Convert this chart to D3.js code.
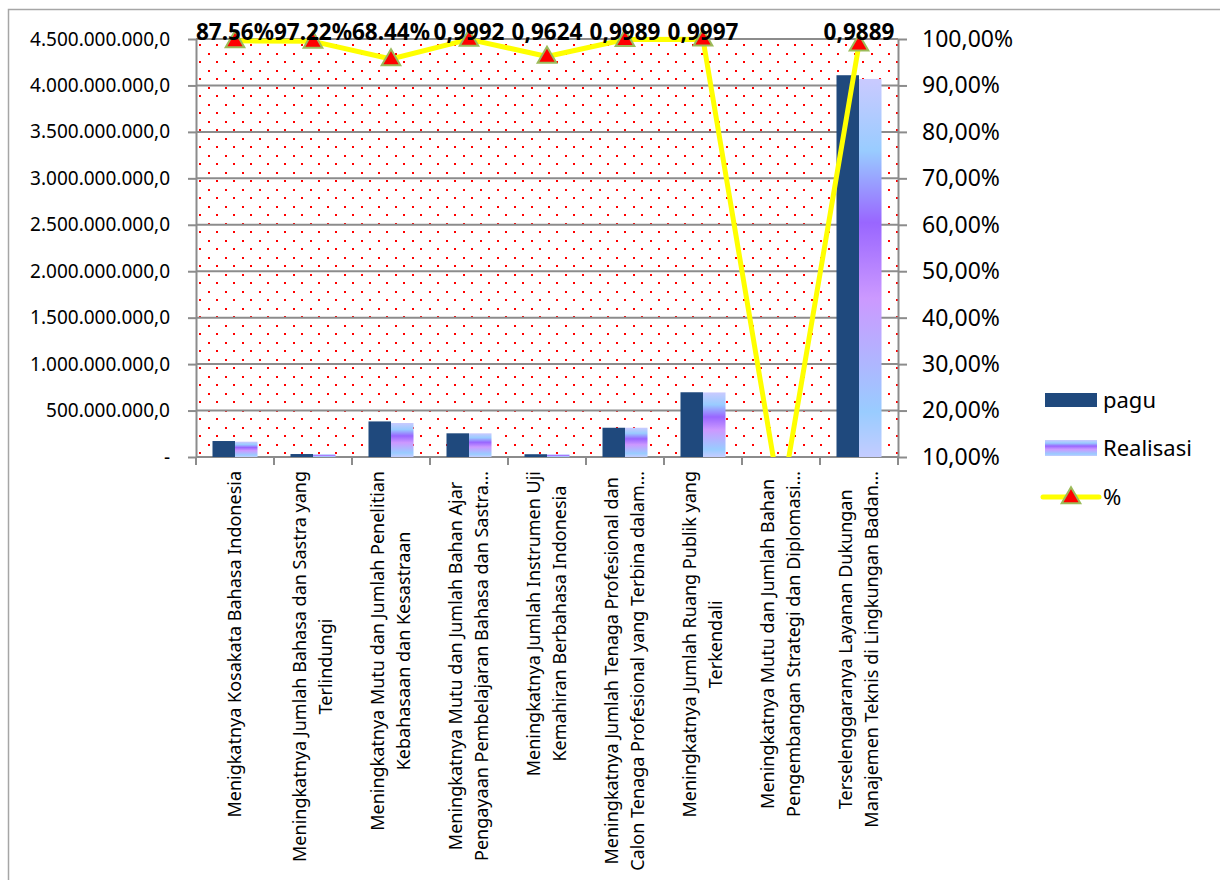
<!DOCTYPE html>
<html>
<head>
<meta charset="utf-8">
<script src="https://cdn.jsdelivr.net/npm/d3@7"></script>
<style>
  body { margin: 0; background: #fff; }
  svg { display: block; font-family: "Noto Sans", sans-serif; }
</style>
</head>
<body>
<div id="chart"></div>
<script>
// data
const categories = [
  ["Menigkatnya Kosakata Bahasa Indonesia"],
  ["Meningkatnya Jumlah Bahasa dan Sastra yang", "Terlindungi"],
  ["Meningkatnya Mutu dan Jumlah Penelitian", "Kebahasaan dan Kesastraan"],
  ["Meningkatnya Mutu dan Jumlah Bahan Ajar", "Pengayaan Pembelajaran Bahasa dan Sastra…"],
  ["Meningkatnya Jumlah Instrumen Uji", "Kemahiran Berbahasa Indonesia"],
  ["Meningkatnya Jumlah Tenaga Profesional dan", "Calon Tenaga Profesional yang Terbina dalam…"],
  ["Meningkatnya Jumlah Ruang Publik yang", "Terkendali"],
  ["Meningkatnya Mutu dan Jumlah Bahan", "Pengembangan Strategi dan Diplomasi…"],
  ["Terselenggaranya Layanan Dukungan", "Manajemen Teknis di Lingkungan Badan…"]
];
const pagu      = [172e6, 32e6, 383e6, 255e6, 30e6, 315e6, 697e6, 0, 4.11e9];
const realisasi = [165e6, 30e6, 366e6, 255e6, 29e6, 315e6, 695e6, 0, 4.07e9];
const persen    = [0.996, 0.995, 0.957, 0.9992, 0.9624, 0.9989, 0.9997, 0, 0.9889];
const persenLabels = ["87.56%", "97.22%", "68.44%", "0,9992", "0,9624", "0,9989", "0,9997", "", "0,9889"];
const leftTicks  = [0, 5e8, 1e9, 1.5e9, 2e9, 2.5e9, 3e9, 3.5e9, 4e9, 4.5e9];
const rightTicks = [0.1, 0.2, 0.3, 0.4, 0.5, 0.6, 0.7, 0.8, 0.9, 1.0];
const seriesNames = ["pagu", "Realisasi", "%"];

const W = 1220, H = 880;
const plot = { left: 196, right: 898, top: 39, bottom: 457 };
const gridColor = "#8c8c8c";

const idLocale = d3.formatLocale({ decimal: ",", thousands: ".", grouping: [3], currency: ["Rp", ""] });
const leftFmt = v => v === 0 ? "-" : idLocale.format(",.1f")(v);
const rightFmt = idLocale.format(".2%");

const svg = d3.select("#chart").append("svg")
  .attr("width", W)
  .attr("height", H);

const defs = svg.append("defs");

// dotted plot-area fill
const pat = defs.append("pattern")
  .attr("id", "dots")
  .attr("patternUnits", "userSpaceOnUse")
  .attr("x", 4).attr("y", 2)
  .attr("width", 17).attr("height", 17);
pat.append("rect").attr("width", 17).attr("height", 17).attr("fill", "#fff");
pat.append("rect").attr("x", 0).attr("y", 0).attr("width", 2).attr("height", 2).attr("fill", "#ff0000")
  .attr("shape-rendering", "crispEdges");
pat.append("rect").attr("x", 8).attr("y", 8).attr("width", 2).attr("height", 2).attr("fill", "#ff0000")
  .attr("shape-rendering", "crispEdges");

// Realisasi gradient
const grad = defs.append("linearGradient")
  .attr("id", "realGrad")
  .attr("x1", 0).attr("y1", 0).attr("x2", 0).attr("y2", 1);
[[0, "#cacaff"], [0.19, "#99ccff"], [0.38, "#9966ff"], [0.58, "#cc99ff"], [0.88, "#99ccff"], [1, "#c4ccff"]]
  .forEach(s => grad.append("stop").attr("offset", s[0]).attr("stop-color", s[1]));

defs.append("clipPath").attr("id", "plotClip")
  .append("rect")
  .attr("x", plot.left).attr("y", 0)
  .attr("width", plot.right - plot.left)
  .attr("height", plot.bottom);

// chart-area border
svg.append("rect")
  .attr("x", 8.5).attr("y", 9.5)
  .attr("width", 1400).attr("height", 1000)
  .attr("fill", "none")
  .attr("stroke", "#a6a6a6")
  .attr("stroke-width", 1.5);

// ===== SCALES =====
const idx = categories.map((c, i) => i);
const x = d3.scaleBand()
  .domain(idx)
  .range([plot.left, plot.right])
  .paddingInner(0.423)
  .paddingOuter(0.2115);

const xSub = d3.scaleBand()
  .domain([0, 1])
  .range([0, x.bandwidth()]);

const yL = d3.scaleLinear().domain([0, 4.5e9]).range([plot.bottom, plot.top]);
const yR = d3.scaleLinear().domain([0.1, 1.0]).range([plot.bottom, plot.top]);

// plot background
svg.append("rect")
  .attr("x", plot.left).attr("y", plot.top)
  .attr("width", plot.right - plot.left)
  .attr("height", plot.bottom - plot.top)
  .attr("fill", "url(#dots)");

// gridlines
svg.append("g")
  .selectAll("line")
  .data(leftTicks)
  .join("line")
  .attr("x1", plot.left).attr("x2", plot.right)
  .attr("y1", d => yL(d)).attr("y2", d => yL(d))
  .attr("stroke", gridColor)
  .attr("stroke-width", 2);

// ===== BARS =====
svg.append("g").selectAll("rect")
  .data(idx)
  .join("rect")
  .attr("x", i => x(i) + xSub(0))
  .attr("width", xSub.bandwidth())
  .attr("y", i => yL(pagu[i]))
  .attr("height", i => yL(0) - yL(pagu[i]))
  .attr("fill", "#1f497d");

svg.append("g").selectAll("rect")
  .data(idx)
  .join("rect")
  .attr("x", i => x(i) + xSub(1))
  .attr("width", xSub.bandwidth())
  .attr("y", i => yL(realisasi[i]))
  .attr("height", i => yL(0) - yL(realisasi[i]))
  .attr("fill", "url(#realGrad)");

// ===== AXES =====
const axL = svg.append("g")
  .attr("transform", `translate(${plot.left},0)`)
  .call(d3.axisLeft(yL).tickValues(leftTicks).tickFormat(leftFmt).tickSize(8).tickPadding(18).tickSizeOuter(0));
axL.selectAll("text").style("font-size", "19px").style("fill", "#000").attr("font-family", "Noto Sans");

const axR = svg.append("g")
  .attr("transform", `translate(${plot.right},0)`)
  .call(d3.axisRight(yR).tickValues(rightTicks).tickFormat(rightFmt).tickSize(9).tickPadding(15).tickSizeOuter(0));
axR.selectAll("text").style("font-size", "23px").style("fill", "#000").attr("font-family", "Noto Sans");

[axL, axR].forEach(a => {
  a.select(".domain").attr("stroke", gridColor).attr("stroke-width", 2);
  a.selectAll(".tick line").attr("stroke", gridColor).attr("stroke-width", 2);
});

// category boundary ticks
const gap = (x.step() - x.bandwidth()) / 2;
const bounds = idx.map(i => x(i) - gap).concat([x(idx[idx.length - 1]) + x.bandwidth() + gap]);
svg.append("g").selectAll("line")
  .data(bounds)
  .join("line")
  .attr("x1", d => d).attr("x2", d => d)
  .attr("y1", plot.bottom).attr("y2", plot.bottom + 8)
  .attr("stroke", gridColor)
  .attr("stroke-width", 2);

// category labels (rotated)
const labelTop = 471;
const lineH = 26;
idx.forEach(i => {
  const g = svg.append("g");
  const lines = categories[i];
  const texts = lines.map((t, k) => g.append("text")
    .attr("x", 0)
    .attr("y", (k - (lines.length - 1) / 2) * lineH)
    .attr("dy", "0.35em")
    .attr("text-anchor", "middle")
    .style("font-size", "18px")
    .style("fill", "#000")
    .text(t));
  const maxLen = d3.max(texts, t => t.node().getComputedTextLength());
  const cx = x(i) + x.bandwidth() / 2;
  g.attr("transform", `translate(${cx},${labelTop + maxLen / 2}) rotate(-90)`);
});

// ===== % LINE =====
const cxOf = i => x(i) + x.bandwidth() / 2;
const line = d3.line()
  .x(i => cxOf(i))
  .y(i => yR(persen[i]));

svg.append("path")
  .datum(idx)
  .attr("clip-path", "url(#plotClip)")
  .attr("d", line)
  .attr("fill", "none")
  .attr("stroke", "#ffff00")
  .attr("stroke-width", 5)
  .attr("stroke-linejoin", "round");

const tri = d3.symbol(d3.symbolTriangle, 150);
svg.append("g").selectAll("path")
  .data(idx.filter(i => persen[i] >= 0.1))
  .join("path")
  .attr("transform", i => `translate(${cxOf(i)},${yR(persen[i]) + 1})`)
  .attr("d", tri)
  .attr("fill", "#ff0000")
  .attr("stroke", "#9bbb59")
  .attr("stroke-width", 2);

svg.append("g").selectAll("text")
  .data(idx)
  .join("text")
  .attr("x", i => cxOf(i))
  .attr("y", 40)
  .attr("text-anchor", "middle")
  .style("font-size", "22.5px")
  .style("font-weight", "700")
  .style("fill", "#000")
  .text(i => persenLabels[i]);

// ===== LEGEND =====
const legend = svg.append("g").attr("transform", "translate(1045,0)");
const legY = [400, 448, 497];

legend.append("rect")
  .attr("x", 0).attr("y", legY[0] - 7)
  .attr("width", 52).attr("height", 14)
  .attr("fill", "#1f497d");

legend.append("rect")
  .attr("x", 0).attr("y", legY[1] - 8)
  .attr("width", 52).attr("height", 16)
  .attr("fill", "url(#realGrad)");

legend.append("line")
  .attr("x1", -2).attr("x2", 54)
  .attr("y1", legY[2]).attr("y2", legY[2])
  .attr("stroke", "#ffff00")
  .attr("stroke-width", 5)
  .attr("stroke-linecap", "round");

legend.append("path")
  .attr("transform", `translate(26,${legY[2] + 1})`)
  .attr("d", tri)
  .attr("fill", "#ff0000")
  .attr("stroke", "#9bbb59")
  .attr("stroke-width", 2);

seriesNames.forEach((n, k) => {
  legend.append("text")
    .attr("x", 58)
    .attr("y", legY[k])
    .attr("dy", "0.35em")
    .style("font-size", "22px")
    .style("fill", "#000")
    .text(n);
});
</script>
</body>
</html>
